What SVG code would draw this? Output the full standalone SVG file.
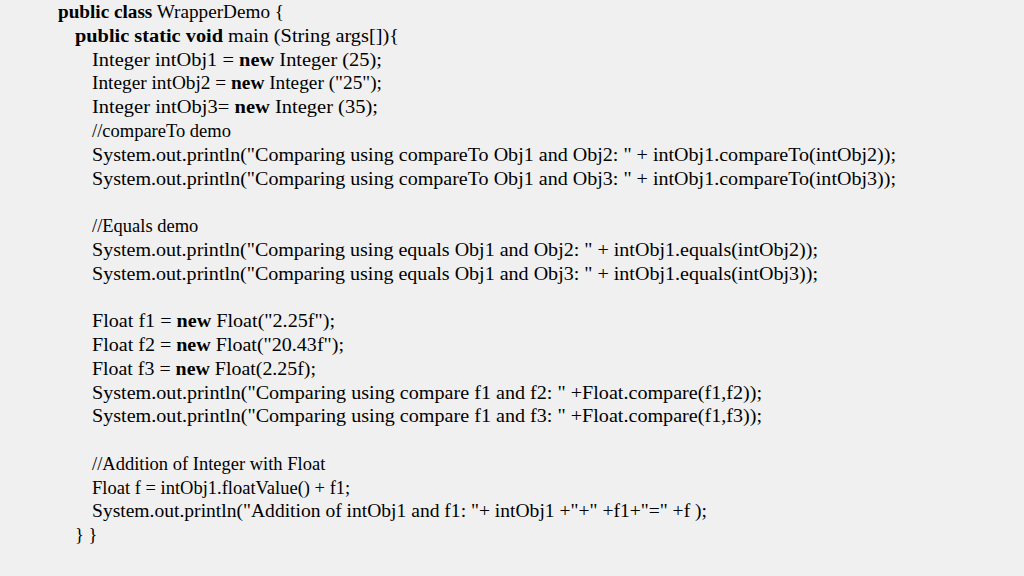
<svg xmlns="http://www.w3.org/2000/svg" width="1024" height="576" viewBox="0 0 1024 576">
<style>
text{font-family:"Liberation Serif","DejaVu Serif",serif;font-size:18.5px;fill:#000}
.b{font-weight:bold}
</style>
<rect width="1024" height="576" fill="#f0f0f0"/>
<g id="code" xml:space="preserve">
<text x="58" y="18" textLength="226" lengthAdjust="spacingAndGlyphs"><tspan class="b">public class</tspan> WrapperDemo {</text>
<text x="75" y="42" textLength="324" lengthAdjust="spacingAndGlyphs"><tspan class="b">public static void</tspan> main (String args[]){</text>
<text x="92" y="66"  textLength="290" lengthAdjust="spacingAndGlyphs">Integer intObj1 = <tspan class="b">new</tspan> Integer (25);</text>
<text x="92" y="89"  textLength="290" lengthAdjust="spacingAndGlyphs">Integer intObj2 = <tspan class="b">new</tspan> Integer ("25");</text>
<text x="92" y="113" textLength="286" lengthAdjust="spacingAndGlyphs">Integer intObj3= <tspan class="b">new</tspan> Integer (35);</text>
<text x="92" y="137">//compareTo demo</text>
<text x="92" y="161" textLength="804" lengthAdjust="spacingAndGlyphs">System.out.println("Comparing using compareTo Obj1 and Obj2: " + intObj1.compareTo(intObj2));</text>
<text x="92" y="185" textLength="804" lengthAdjust="spacingAndGlyphs">System.out.println("Comparing using compareTo Obj1 and Obj3: " + intObj1.compareTo(intObj3));</text>
<text x="92" y="232">//Equals demo</text>
<text x="92" y="256" textLength="726" lengthAdjust="spacingAndGlyphs">System.out.println("Comparing using equals Obj1 and Obj2: " + intObj1.equals(intObj2));</text>
<text x="92" y="280" textLength="726" lengthAdjust="spacingAndGlyphs">System.out.println("Comparing using equals Obj1 and Obj3: " + intObj1.equals(intObj3));</text>
<text x="92" y="327" textLength="243" lengthAdjust="spacingAndGlyphs">Float f1 = <tspan class="b">new</tspan> Float("2.25f");</text>
<text x="92" y="351" textLength="252" lengthAdjust="spacingAndGlyphs">Float f2 = <tspan class="b">new</tspan> Float("20.43f");</text>
<text x="92" y="375" textLength="224" lengthAdjust="spacingAndGlyphs">Float f3 = <tspan class="b">new</tspan> Float(2.25f);</text>
<text x="92" y="399" textLength="670" lengthAdjust="spacingAndGlyphs">System.out.println("Comparing using compare f1 and f2: " +Float.compare(f1,f2));</text>
<text x="92" y="422" textLength="670" lengthAdjust="spacingAndGlyphs">System.out.println("Comparing using compare f1 and f3: " +Float.compare(f1,f3));</text>
<text x="92" y="470">//Addition of Integer with Float</text>
<text x="92" y="494">Float f = intObj1.floatValue() + f1;</text>
<text x="92" y="517" textLength="615" lengthAdjust="spacingAndGlyphs">System.out.println("Addition of intObj1 and f1: "+ intObj1 +"+" +f1+"=" +f );</text>
<text x="75" y="541">}  }</text>
</g>
</svg>
